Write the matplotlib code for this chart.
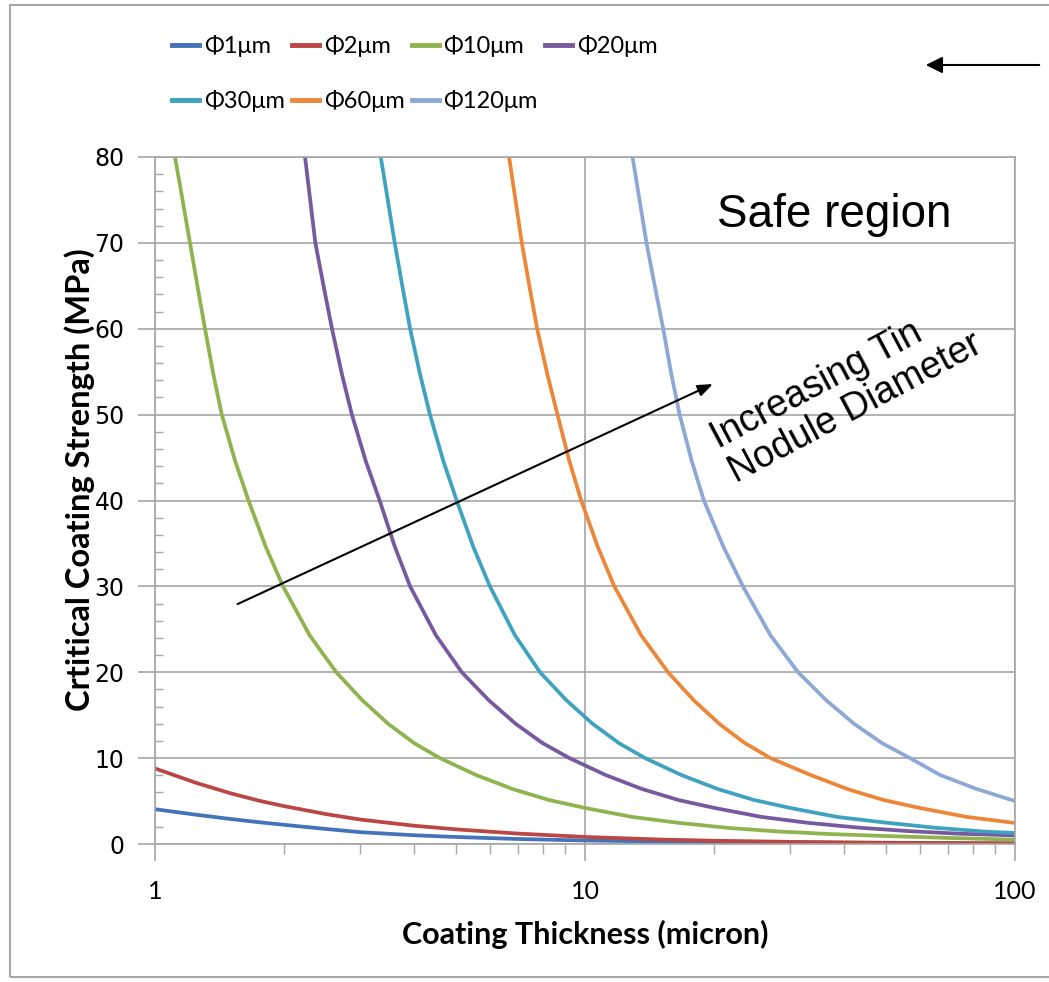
import matplotlib
matplotlib.use("Agg")
import matplotlib.pyplot as plt
from matplotlib.patches import Rectangle, FancyArrowPatch
from matplotlib.ticker import FixedLocator, MultipleLocator, NullFormatter

# values (thickness in micron, strength in MPa)
labels = ["Φ1μm", "Φ2μm", "Φ10μm", "Φ20μm", "Φ30μm", "Φ60μm", "Φ120μm"]
colors = ["#4373B8", "#BB4744", "#8FB34E", "#7759A0", "#3FA3C0", "#EC8739", "#8EA8D6"]

t_d1 = [1, 1.25, 1.5, 1.75, 2, 2.5, 3, 4, 5, 7, 10, 15, 20, 30, 50, 70, 100]
s_d1 = [4.05, 3.4, 2.91, 2.53, 2.23, 1.75, 1.38, 1.02, 0.82, 0.58, 0.41, 0.29, 0.23, 0.17, 0.11, 0.08, 0.06]

t_d2 = [1, 1.25, 1.5, 1.75, 2, 2.5, 3, 4, 5, 7, 10, 15, 20, 30, 50, 70, 100]
s_d2 = [8.8, 7.1, 5.9, 5.03, 4.4, 3.48, 2.85, 2.13, 1.71, 1.21, 0.82, 0.52, 0.38, 0.25, 0.15, 0.11, 0.08]

t_d10 = [1.113, 1.159, 1.206, 1.256, 1.307, 1.367, 1.43, 1.536, 1.65, 1.81, 1.985, 2.289, 2.64,
         3.033, 3.485, 4.004, 4.6, 5.585, 6.78, 8.234, 10, 12.88, 16.6, 21.68, 28.3, 37.1, 48.5, 69.7, 100]
s_d10 = [80, 75, 70, 64.9, 60, 54.7, 50, 44.6, 40, 34.6, 30, 24.3, 20,
         16.75, 14.0, 11.75, 10, 8.03, 6.41, 5.13, 4.2, 3.15, 2.45, 1.86, 1.45, 1.16, 0.95, 0.71, 0.5]

t_d20 = [2.233, 2.296, 2.36, 2.468, 2.58, 2.721, 2.87, 3.091, 3.33, 3.613, 3.92, 4.502, 5.17,
         5.971, 6.897, 7.967, 9.2, 11.17, 13.56, 16.47, 20, 25.76, 33.2, 43.4, 56.6, 74.2, 100]
s_d20 = [80, 75, 70, 64.9, 60, 54.7, 50, 44.6, 40, 34.6, 30, 24.3, 20,
         16.75, 14.0, 11.75, 10, 8.03, 6.41, 5.13, 4.2, 3.15, 2.45, 1.9, 1.5, 1.2, 1.0]

t_d30 = [3.35, 3.478, 3.61, 3.762, 3.92, 4.134, 4.36, 4.683, 5.03, 5.498, 6.01, 6.873, 7.86,
         9.047, 10.415, 11.99, 13.8, 16.76, 20.34, 24.7, 30, 38.6, 49.8, 65.0, 84.9, 100]
s_d30 = [80, 75, 70, 64.9, 60, 54.7, 50, 44.6, 40, 34.6, 30, 24.3, 20,
         16.75, 14.0, 11.75, 10, 8.03, 6.41, 5.13, 4.2, 3.15, 2.5, 1.9, 1.45, 1.28]

t_d60 = [6.66, 6.891, 7.13, 7.429, 7.74, 8.173, 8.63, 9.196, 9.8, 10.708, 11.7, 13.51, 15.6,
         17.89, 20.52, 23.54, 27, 33.5, 40.7, 49.4, 60, 77.3, 100]
s_d60 = [80, 75, 70, 64.9, 60, 54.7, 50, 44.6, 40, 34.6, 30, 24.3, 20,
         16.75, 14.0, 11.75, 10, 8.03, 6.41, 5.13, 4.2, 3.15, 2.45]

t_d120 = [12.9, 13.39, 13.9, 14.54, 15.2, 15.88, 16.6, 17.71, 18.9, 20.99, 23.3, 27.0, 31.3,
          36.37, 42.24, 49.05, 57, 67.0, 81.4, 100]
s_d120 = [80, 75, 70, 64.9, 60, 54.7, 50, 44.6, 40, 34.6, 30, 24.3, 20,
          16.75, 14.0, 11.75, 10, 8.03, 6.41, 5.0]

thickness = [t_d1, t_d2, t_d10, t_d20, t_d30, t_d60, t_d120]
strength = [s_d1, s_d2, s_d10, s_d20, s_d30, s_d60, s_d120]

calibri_like = ["Lato", "DejaVu Sans"]
arial = ["Liberation Sans", "DejaVu Sans"]
grid_gray = "#a6a6a6"

fig = plt.figure(figsize=(10.49, 9.82), dpi=100)
ax = fig.add_axes([155 / 1049, 1 - 844 / 982, 860 / 1049, 687 / 982])

lines = []
for t, s, lab, c in zip(thickness, strength, labels, colors):
    ln, = ax.plot(t, s, color=c, lw=2.7, label=lab, solid_joinstyle="round")
    lines.append(ln)

ax.set_xscale("log")
ax.set_xlim(1, 100)
ax.set_ylim(0, 80)

ax.xaxis.set_major_locator(FixedLocator([1, 10, 100]))
ax.set_xticklabels(["1", "10", "100"], family=calibri_like, fontsize=18)
ax.xaxis.set_minor_formatter(NullFormatter())
ax.yaxis.set_major_locator(MultipleLocator(10))
ax.yaxis.set_minor_locator(MultipleLocator(2))
for lab in ax.get_yticklabels():
    lab.set_family(["DejaVu Sans"])
    lab.set_fontsize(17)

ax.tick_params(axis="x", which="major", direction="out", length=12, width=1.2, color=grid_gray, pad=14)
ax.tick_params(axis="x", which="minor", direction="out", length=7, width=1.0, color=grid_gray)
ax.tick_params(axis="y", which="major", direction="out", length=12, width=1.2, color=grid_gray, pad=10)
ax.tick_params(axis="y", which="minor", direction="in", length=6, width=1.0, color=grid_gray)

ax.grid(True, which="major", color=grid_gray, lw=1.2)
ax.set_axisbelow(True)
for sp in ax.spines.values():
    sp.set_color(grid_gray)
    sp.set_linewidth(1.2)

ax.set_xlabel("Coating Thickness (micron)", family=calibri_like, fontsize=22, fontweight="bold")
ax.xaxis.set_label_coords(0.5, -0.11)
ax.set_ylabel("Crtitical Coating Strength (MPa)", family=calibri_like, fontsize=23.5, fontweight="bold")
ax.yaxis.set_label_coords(-0.07, 0.531)

# annotations
ax.text(38, 73.2, "Safe region", family=arial, fontsize=33, ha="center", va="center")
ax.annotate("", xy=(20.1, 53.7), xytext=(1.535, 27.8),
            arrowprops=dict(arrowstyle="-|>,head_length=0.9,head_width=0.35", color="black", lw=1.5))
ax.text(40.6, 52.7, "Increasing Tin\nNodule Diameter", family=arial, fontsize=27,
        rotation=28, ha="center", va="center", rotation_mode="anchor",
        multialignment="left", linespacing=1.1)

# legend laid out row by row like the reference
order = [0, 4, 1, 5, 2, 6, 3]
leg = fig.legend([lines[i] for i in order], [labels[i] for i in order],
                 loc="upper left", bbox_to_anchor=(172 / 1049, 1 - 35 / 982), ncol=4,
                 frameon=False, prop={"family": calibri_like, "size": 17},
                 handlelength=1.15, handletextpad=0.2, columnspacing=0.3, labelspacing=1.4,
                 borderaxespad=0, borderpad=0)
for h in leg.legend_handles:
    h.set_linewidth(3.5)

# arrow pointing at the legend, outside the plot
fig.add_artist(FancyArrowPatch(
    (1042 / 1049, 1 - 65 / 982), (923 / 1049, 1 - 65 / 982), transform=fig.transFigure,
    arrowstyle="-|>,head_length=10,head_width=5", color="black", lw=1.5))

# chart area border
fig.add_artist(Rectangle((10 / 1049, 5 / 982), 1.2, 972 / 982, transform=fig.transFigure,
                         fill=False, ec="#a6a6a6", lw=1.5))

fig.savefig("out.png", dpi=100)
